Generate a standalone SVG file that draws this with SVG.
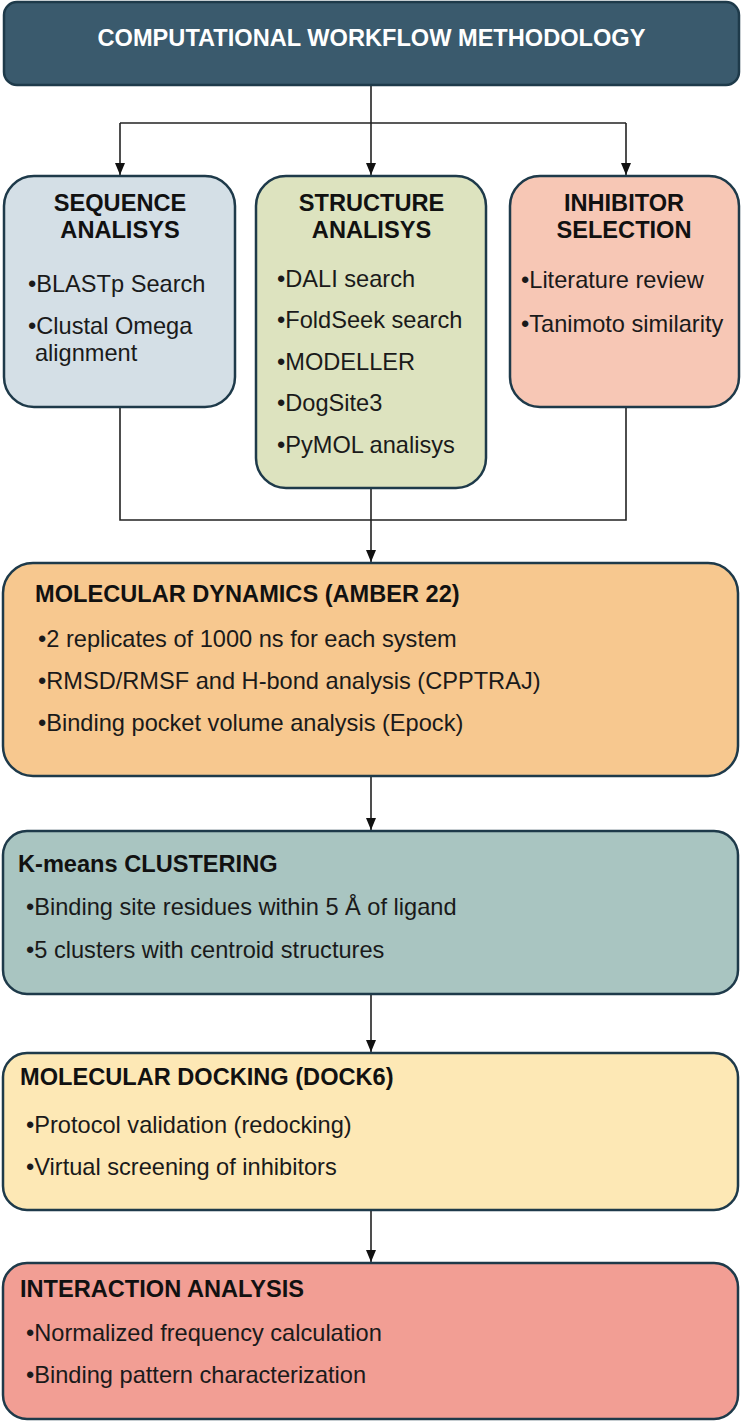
<svg xmlns="http://www.w3.org/2000/svg" width="742" height="1422" viewBox="0 0 742 1422">
<defs>
<marker id="arr" markerWidth="12" markerHeight="10" refX="12" refY="5" orient="auto" markerUnits="userSpaceOnUse" viewBox="0 0 12 10">
<path d="M0,0 L12,5 L0,10 Z" fill="#111"/>
</marker>
</defs>
<style>
.box{stroke:#1e3a4a;stroke-width:2.5}
.t{font-family:"Liberation Sans",Arial,sans-serif;font-weight:bold;font-size:23.6px;fill:#111}
.b{font-family:"Liberation Sans",Arial,sans-serif;font-size:23.6px;fill:#1a1a1a}
.c{text-anchor:middle}
.ln{fill:none;stroke:#222;stroke-width:1.6}
</style>
<rect width="742" height="1422" fill="#fff"/>
<g id="connectors">
<path class="ln" d="M371,85 V123"/>
<path class="ln" d="M120,123 H626"/>
<path class="ln" d="M120,123 V175" marker-end="url(#arr)"/>
<path class="ln" d="M371,123 V175" marker-end="url(#arr)"/>
<path class="ln" d="M626,123 V175" marker-end="url(#arr)"/>
<path class="ln" d="M120,407 V520 H626 V407"/>
<path class="ln" d="M371,488 V562" marker-end="url(#arr)"/>
<path class="ln" d="M371,776 V830" marker-end="url(#arr)"/>
<path class="ln" d="M371,994 V1052" marker-end="url(#arr)"/>
<path class="ln" d="M371,1210 V1262" marker-end="url(#arr)"/>
</g>
<g id="title">
<rect class="box" x="4" y="2" width="735" height="83" rx="13" fill="#3a5a6d"/>
<text class="t c" x="371.5" y="46" style="fill:#fff">COMPUTATIONAL WORKFLOW METHODOLOGY</text>
</g>
<g id="sequence">
<rect class="box" x="4" y="176" width="231" height="231" rx="30" fill="#d4dfe6"/>
<text class="t c" x="120" y="211">SEQUENCE</text>
<text class="t c" x="120" y="238">ANALISYS</text>
<text class="b" x="28" y="292">•BLASTp Search</text>
<text class="b" x="28" y="334">•Clustal Omega</text>
<text class="b" x="35" y="361">alignment</text>
</g>
<g id="structure">
<rect class="box" x="256" y="176" width="230" height="312" rx="30" fill="#dde3bf"/>
<text class="t c" x="371.5" y="211">STRUCTURE</text>
<text class="t c" x="371.5" y="238">ANALISYS</text>
<text class="b" x="277" y="287">•DALI search</text>
<text class="b" x="277" y="328">•FoldSeek search</text>
<text class="b" x="277" y="370">•MODELLER</text>
<text class="b" x="277" y="411">•DogSite3</text>
<text class="b" x="277" y="453">•PyMOL analisys</text>
</g>
<g id="inhibitor">
<rect class="box" x="510" y="176" width="229" height="231" rx="30" fill="#f7c7b5"/>
<text class="t c" x="624" y="211">INHIBITOR</text>
<text class="t c" x="624" y="238">SELECTION</text>
<text class="b" x="521" y="288">•Literature review</text>
<text class="b" x="521" y="332">•Tanimoto similarity</text>
</g>
<g id="md">
<rect class="box" x="3" y="563" width="735" height="213" rx="30" fill="#f7c88f"/>
<text class="t" x="35" y="602">MOLECULAR DYNAMICS (AMBER 22)</text>
<text class="b" x="38" y="647">•2 replicates of 1000 ns for each system</text>
<text class="b" x="38" y="689">•RMSD/RMSF and H-bond analysis (CPPTRAJ)</text>
<text class="b" x="38" y="731">•Binding pocket volume analysis (Epock)</text>
</g>
<g id="kmeans">
<rect class="box" x="3" y="831" width="735" height="163" rx="24" fill="#a9c5c1"/>
<text class="t" x="18" y="872">K-means CLUSTERING</text>
<text class="b" x="26" y="915">•Binding site residues within 5 Å of ligand</text>
<text class="b" x="26" y="958">•5 clusters with centroid structures</text>
</g>
<g id="docking">
<rect class="box" x="3" y="1053" width="735" height="157" rx="24" fill="#fde8b5"/>
<text class="t" x="20" y="1085">MOLECULAR DOCKING (DOCK6)</text>
<text class="b" x="26" y="1133">•Protocol validation (redocking)</text>
<text class="b" x="26" y="1175">•Virtual screening of inhibitors</text>
</g>
<g id="interaction">
<rect class="box" x="3" y="1263" width="735" height="156" rx="24" fill="#f29e94"/>
<text class="t" x="20" y="1297">INTERACTION ANALYSIS</text>
<text class="b" x="26" y="1341">•Normalized frequency calculation</text>
<text class="b" x="26" y="1383">•Binding pattern characterization</text>
</g>
</svg>
